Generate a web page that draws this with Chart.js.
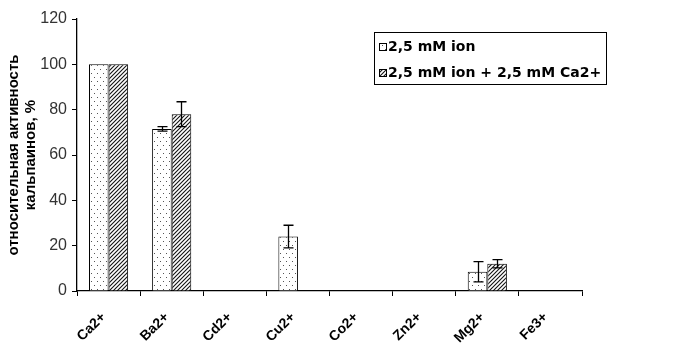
<!DOCTYPE html>
<html><head><meta charset="utf-8">
<script src="https://cdn.jsdelivr.net/npm/chart.js@4.4.0/dist/chart.umd.min.js"></script>
<style>html,body{margin:0;padding:0;background:#fff}#wrap{width:679px;height:356px}</style>
</head><body><div id="wrap"><canvas id="c" width="679" height="356"></canvas></div>
<script>
const categories = ['Ca2+','Ba2+','Cd2+','Cu2+','Co2+','Zn2+','Mg2+','Fe3+'];
const ionValues = [100, 71.5, null, 24, null, null, 8.5, null];
const ionCaValues = [100, 78, null, null, null, null, 12, null];
const ionErrors = [0, 1, 0, 5, 0, 0, 4.5, 0];
const ionCaErrors = [0, 5.5, 0, 0, 0, 0, 1.8, 0];
const seriesLabels = ['2,5 mM ion', '2,5 mM ion + 2,5 mM Ca2+'];
const yTicks = [0, 20, 40, 60, 80, 100, 120];

function dotPattern(){
  const c=document.createElement('canvas');c.width=6;c.height=8;
  const x=c.getContext('2d');x.fillStyle='#fff';x.fillRect(0,0,6,8);
  x.fillStyle='#555';x.fillRect(1,1,1,1);x.fillRect(4,5,1,1);
  return x.createPattern(c,'repeat');
}
function hatchPattern(){
  const c=document.createElement('canvas');c.width=4;c.height=4;
  const x=c.getContext('2d');x.fillStyle='#fff';x.fillRect(0,0,4,4);
  x.strokeStyle='#111';x.lineWidth=1.1;
  x.beginPath();x.moveTo(-1,5);x.lineTo(5,-1);x.stroke();
  x.beginPath();x.moveTo(-1,1);x.lineTo(1,-1);x.stroke();
  x.beginPath();x.moveTo(3,5);x.lineTo(5,3);x.stroke();
  return x.createPattern(c,'repeat');
}
const dots=dotPattern(), hatch=hatchPattern();
const errs=[ionErrors, ionCaErrors];

const errorBars={id:'errorBars',afterDatasetsDraw(chart){
  const ctx=chart.ctx, y=chart.scales.y;
  ctx.save();ctx.strokeStyle='#000';ctx.lineWidth=1.3;
  chart.data.datasets.forEach((ds,di)=>{
    const meta=chart.getDatasetMeta(di);
    meta.data.forEach((bar,i)=>{
      const v=ds.data[i], e=errs[di][i];
      if(v==null||!e) return;
      const x=Math.round(bar.x)+0.5, t=y.getPixelForValue(v+e), b=y.getPixelForValue(v-e);
      ctx.beginPath();ctx.moveTo(x,t);ctx.lineTo(x,b);
      ctx.moveTo(x-5,t);ctx.lineTo(x+5,t);ctx.moveTo(x-5,b);ctx.lineTo(x+5,b);ctx.stroke();
    });
  });
  ctx.restore();
}};
const boxLegend={id:'boxLegend',afterDraw(chart){
  const ctx=chart.ctx;ctx.save();
  ctx.strokeStyle='#000';ctx.lineWidth=1;
  ctx.strokeRect(374.5,32.5,232,52);
  ctx.font='bold 14px "DejaVu Sans", sans-serif';ctx.textBaseline='middle';ctx.fillStyle='#000';
  const pats=[dots,hatch];
  chart.data.datasets.forEach((ds,i)=>{
    const cy=46+i*26;
    ctx.fillStyle=pats[i];ctx.fillRect(379,cy-3,7,7);
    ctx.strokeRect(379.5,cy-2.5,7,7);
    ctx.fillStyle='#000';ctx.fillText(ds.label,388,cy+1);
  });
  ctx.restore();
}};

new Chart(document.getElementById('c'),{
  type:'bar',
  data:{labels:categories,datasets:[
    {label:seriesLabels[0],data:ionValues,backgroundColor:dots,borderColor:'#000',borderWidth:1},
    {label:seriesLabels[1],data:ionCaValues,backgroundColor:hatch,borderColor:'#000',borderWidth:1}
  ]},
  options:{
    responsive:false,animation:false,
    layout:{padding:{left:0,right:97,top:19,bottom:0}},
    datasets:{bar:{categoryPercentage:0.62,barPercentage:1.0}},
    plugins:{legend:{display:false},tooltip:{enabled:false}},
    scales:{
      x:{
        grid:{drawOnChartArea:false,drawTicks:true,tickLength:5,color:'#000',offset:true},
        border:{color:'#000',width:1.3},
        ticks:{color:'#000',minRotation:45,maxRotation:45,labelOffset:-5,font:{family:'"Liberation Sans", Arial',size:14,weight:'bold'},padding:13},
        afterFit(s){s.height=65;}
      },
      y:{
        min:0,max:120,
        afterBuildTicks(s){s.ticks=yTicks.map(v=>({value:v}));},
        grid:{drawOnChartArea:false,drawTicks:true,tickLength:5,color:'#000'},
        border:{color:'#000',width:1.3},
        ticks:{color:'#333',font:{family:'"Liberation Sans", Arial',size:16},padding:5},
        title:{display:true,text:['относительная активность','кальпаинов, %'],color:'#000',
          font:{family:'"Liberation Sans", Arial',size:15,weight:'bold',lineHeight:1.1},padding:{top:6,bottom:4}},
        afterFit(s){s.width=77;}
      }
    }
  },
  plugins:[errorBars,boxLegend]
});
</script></body></html>
